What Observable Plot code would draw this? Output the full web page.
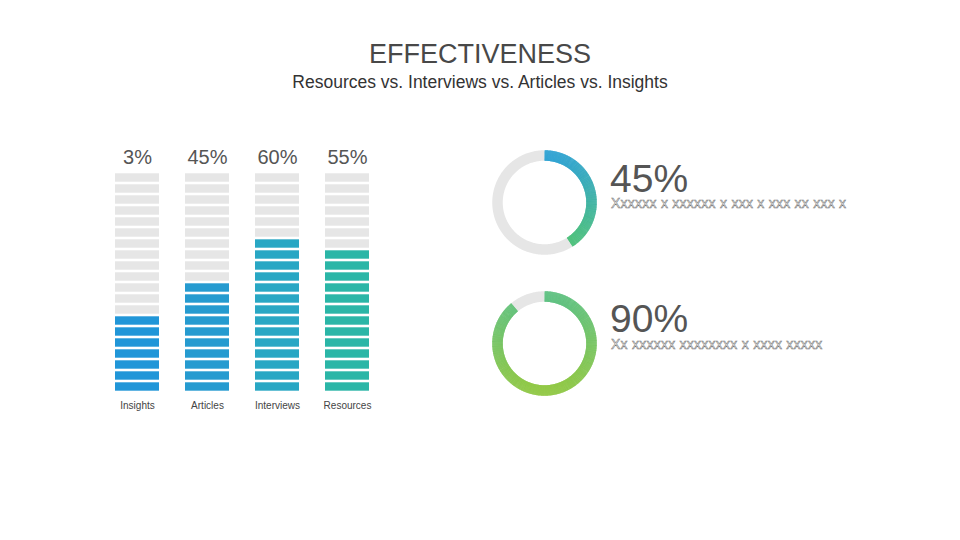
<!DOCTYPE html>
<html>
<head>
<meta charset="utf-8">
<script src="https://cdn.jsdelivr.net/npm/d3@7"></script>
<script src="https://cdn.jsdelivr.net/npm/@observablehq/plot@0.6"></script>
<style>
  html, body { margin: 0; padding: 0; background: #fff; overflow: hidden; }
  #page { position: relative; width: 960px; height: 540px; overflow: hidden; font-family: "Liberation Sans", Arial, sans-serif; }
  .abs { position: absolute; line-height: 1; white-space: nowrap; }
  .note { color: #fff; -webkit-text-stroke: 0.5px #707070; font-size: 14px; letter-spacing: 0.25px; }
  .big { font-size: 39px; color: #555; line-height: 0.75; }
</style>
</head>
<body>
<div id="page"></div>
<script>
// ---- data ----
const titleText = "EFFECTIVENESS";
const subtitleText = "Resources vs. Interviews vs. Articles vs. Insights";
const categories = ["Insights", "Articles", "Interviews", "Resources"];
const pctLabels = ["3%", "45%", "60%", "55%"];
const filledSegments = [7, 10, 14, 13];
const totalSegments = 20;
const barColors = ["#2196d8", "#269bd0", "#29a7c4", "#2bb6a7"];
const emptyColor = "#e6e6e6";

const ringLabels = ["45%", "90%"];
const ringValues = [0.41, 0.89];
const ringNotes = ["Xxxxxx x xxxxxx x xxx x xxx xx xxx x", "Xx xxxxxx xxxxxxxx x xxxx xxxxx"];
const ringTopColors = ["#2aa0d1", "#5abf7e"];
const ringBottomColors = ["#49bf78", "#8dc63f"];

const page = document.getElementById("page");
function place(el, left, top) {
  const d = document.createElement("div");
  d.className = "abs";
  d.style.left = left + "px";
  d.style.top = top + "px";
  d.appendChild(el);
  page.appendChild(d);
  return d;
}
function textDiv(text, cls, style) {
  const d = document.createElement("div");
  d.className = "abs " + (cls || "");
  d.textContent = text;
  Object.assign(d.style, style || {});
  page.appendChild(d);
  return d;
}

// ---- titles ----
textDiv(titleText, "", {top: "40.5px", left: "0px", width: "960px", textAlign: "center", fontSize: "27px", color: "#484848"});
textDiv(subtitleText, "", {top: "74px", left: "0px", width: "960px", textAlign: "center", fontSize: "17.5px", color: "#333"});

// ---- segmented bars ----
const segments = [];
categories.forEach((c, ci) => {
  for (let i = 0; i < totalSegments; i++) {
    segments.push({cat: c, i, key: i < filledSegments[ci] ? c : "empty"});
  }
});

const bars = Plot.plot({
  width: 420, height: 300,
  marginLeft: 89, marginRight: 25, marginTop: 42, marginBottom: 38,
  style: {background: "transparent", fontFamily: "Liberation Sans, Arial, sans-serif"},
  x: {domain: categories, padding: 0.3714, align: 0.5, axis: null},
  y: {domain: [0, totalSegments], axis: null},
  color: {domain: [...categories, "empty"], range: [...barColors, emptyColor]},
  marks: [
    Plot.barY(segments, {x: "cat", y1: "i", y2: d => d.i + 1, fill: "key", insetTop: 1.3, insetBottom: 1.3}),
    Plot.text(categories, {x: d => d, y: () => totalSegments, text: (d, i) => pctLabels[i], dy: -15, fontSize: 20, fill: "#555"}),
    Plot.text(categories, {x: d => d, y: () => 0, text: d => d, dy: 13.5, fontSize: 10, fill: "#444"})
  ]
});
place(bars, 0, 130);

// ---- rings ----
const R = 47;
function ringPlot(k) {
  const endDeg = ringValues[k] * 360;
  const pt = a => ({x: R * Math.sin(a * Math.PI / 180), y: R * Math.cos(a * Math.PI / 180)});
  const rest = [];
  for (let a = endDeg; a < 360; a += 1) rest.push(pt(a));
  rest.push(pt(360));
  const segs = [];
  const step = 0.5;
  for (let a = 0; a < endDeg; a += step) {
    const a2 = Math.min(a + step + 0.4, endDeg);
    const p1 = pt(a), p2 = pt(a2);
    segs.push({x1: p1.x, y1: p1.y, x2: p2.x, y2: p2.y, c: (p1.y + p2.y) / 2});
  }
  const ys = segs.map(d => d.c);
  return Plot.plot({
    width: 120, height: 120, margin: 0,
    style: {background: "transparent"},
    x: {domain: [-60, 60], axis: null},
    y: {domain: [-60, 60], axis: null},
    color: {type: "linear", domain: [d3.min(ys), d3.max(ys)], range: [ringBottomColors[k], ringTopColors[k]], interpolate: "rgb"},
    marks: [
      Plot.line(rest, {x: "x", y: "y", stroke: emptyColor, strokeWidth: 10.5, strokeLinecap: "butt"}),
      Plot.link(segs, {x1: "x1", y1: "y1", x2: "x2", y2: "y2", stroke: "c", strokeWidth: 10.5, strokeLinecap: "butt"})
    ]
  });
}
const ringCentersY = [201.7, 342.5];
const ringCenterX = 543.7;
ringValues.forEach((v, k) => {
  place(ringPlot(k), ringCenterX - 60, ringCentersY[k] - 60);
  textDiv(ringLabels[k], "big", {left: "610px", top: (ringCentersY[k] - 38.1) + "px"});
  textDiv(ringNotes[k], "note", {left: "611px", top: (ringCentersY[k] - 5.8) + "px"});
});
</script>
</body>
</html>
